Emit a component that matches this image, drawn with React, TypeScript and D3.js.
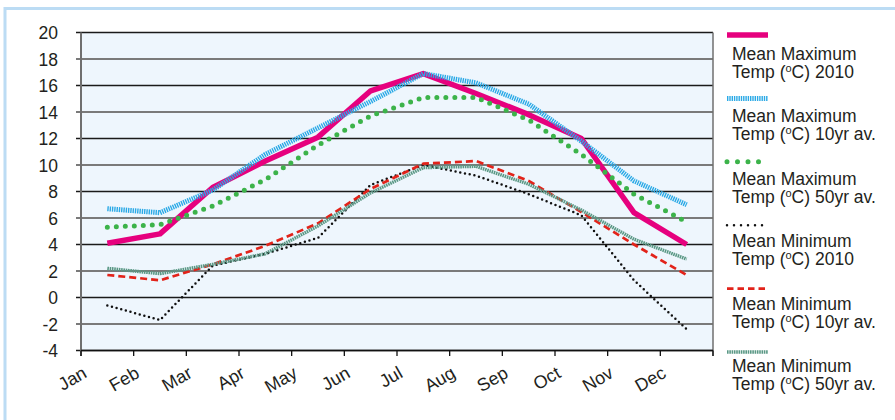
import React from "react";
import * as d3 from "d3";

const months = ["Jan", "Feb", "Mar", "Apr", "May", "Jun", "Jul", "Aug", "Sep", "Oct", "Nov", "Dec"];
const yTicks = [-4, -2, 0, 2, 4, 6, 8, 10, 12, 14, 16, 18, 20];

const maxTemp2010 = [4.1, 4.8, 8.3, 10.3, 12.1, 15.6, 16.9, 15.4, 13.8, 12.0, 6.4, 4.0];
const maxTemp10yr = [6.7, 6.4, 8.1, 10.8, 12.8, 14.8, 16.9, 16.2, 14.6, 11.8, 8.8, 7.0];
const maxTemp50yr = [5.3, 5.5, 6.9, 8.9, 11.5, 13.7, 15.1, 15.1, 13.4, 10.8, 7.8, 5.7];
const minTemp2010 = [-0.6, -1.7, 2.4, 3.3, 4.5, 8.5, 10.0, 9.2, 7.8, 6.2, 1.3, -2.4];
const minTemp10yr = [1.7, 1.3, 2.5, 3.9, 5.6, 8.2, 10.1, 10.3, 8.8, 6.45, 4.0, 1.7];
const minTemp50yr = [2.2, 1.8, 2.5, 3.3, 5.4, 7.9, 9.8, 9.9, 8.55, 6.6, 4.4, 2.9];

const seriesLine1 = ["Mean Maximum", "Mean Maximum", "Mean Maximum", "Mean Minimum", "Mean Minimum", "Mean Minimum"];
const seriesLine2 = ["2010", "10yr av.", "50yr av.", "2010", "10yr av.", "50yr av."];

const FONT = "'Liberation Sans', Arial, Helvetica, sans-serif";
const TEXT = "#231f20";

const W = 895;
const H = 420;
const M = { left: 81, right: 713, top: 32.5, bottom: 350.5 };

type Style = { stroke: string; width: number; dash?: string; legendDash?: string; cap?: "round" | "butt" };

const styles: Style[] = [
  { stroke: "#e6007e", width: 5.5 },
  { stroke: "#2aa9e6", width: 5, dash: "1.4 0.9", legendDash: "1.4 0.9" },
  { stroke: "#3cb34a", width: 5, dash: "0 9", legendDash: "0 10.5", cap: "round" },
  { stroke: "#111111", width: 2.5, dash: "0 4.8", legendDash: "0 7", cap: "round" },
  { stroke: "#e2231a", width: 2.7, dash: "7 4", legendDash: "6.5 4" },
  { stroke: "#5a9885", width: 3.4, dash: "1.6 0.7", legendDash: "1.6 0.7" },
];

const allSeries = [maxTemp2010, maxTemp10yr, maxTemp50yr, minTemp2010, minTemp10yr, minTemp50yr];

export default function App() {
  const x = d3.scaleBand<string>().domain(months).range([M.left, M.right]).padding(0);
  const y = d3.scaleLinear().domain([-4, 20]).range([M.bottom, M.top]);
  const bw = x.bandwidth();
  const lineGen = d3
    .line<number>()
    .x((_, i) => (x(months[i]) as number) + bw / 2)
    .y((d) => y(d));

  const boundaries = months.map((m) => x(m) as number).concat([M.right]);

  return (
    <div>
      <style>{"body{margin:0;background:#fff}"}</style>
      <svg width={W} height={H} viewBox={`0 0 ${W} ${H}`} style={{ display: "block" }}>
        <rect x={5} y={8.5} width={1200} height={1200} fill="none" stroke="#bcdcf4" strokeWidth={3} />
        <rect x={M.left} y={M.top} width={M.right - M.left} height={M.bottom - M.top} fill="#eef6fd" />
        {yTicks.map((t) => (
          <line
            key={"g" + t}
            x1={M.left - 5}
            x2={M.right}
            y1={y(t)}
            y2={y(t)}
            stroke={t % 4 === 0 ? "#1a1a1a" : "#7a7a7a"}
            strokeWidth={t % 4 === 0 ? 1.3 : 1.8}
          />
        ))}
        {yTicks.map((t) => (
          <text
            key={"yl" + t}
            x={58}
            y={y(t) + 6.6}
            textAnchor="end"
            fontFamily={FONT}
            fontSize={17.5}
            fill={TEXT}
          >
            {t}
          </text>
        ))}
        <line x1={M.left} x2={M.left} y1={M.top} y2={M.bottom + 5.5} stroke="#6f6f6f" strokeWidth={2} />
        <line x1={M.right} x2={M.right} y1={M.top} y2={M.bottom + 5.5} stroke="#6f6f6f" strokeWidth={1.5} />
        <line x1={M.left} x2={M.right} y1={M.bottom} y2={M.bottom} stroke="#111" strokeWidth={1.6} />
        {boundaries.map((bx, i) => (
          <line key={"xt" + i} x1={bx} x2={bx} y1={M.bottom} y2={M.bottom + 5.5} stroke="#111" strokeWidth={1.3} />
        ))}
        {months.map((m) => {
          const ax = (x(m) as number) + 7;
          const ay = 376.5;
          return (
            <text
              key={"xl" + m}
              x={ax}
              y={ay}
              transform={`rotate(-30 ${ax} ${ay})`}
              textAnchor="end"
              fontFamily={FONT}
              fontSize={18}
              fill={TEXT}
            >
              {m}
            </text>
          );
        })}
        {allSeries.map((vals, i) => {
          const s = styles[i];
          return (
            <path
              key={"s" + i}
              d={lineGen(vals) as string}
              fill="none"
              stroke={s.stroke}
              strokeWidth={s.width}
              strokeDasharray={s.dash}
              strokeLinecap={s.cap || "butt"}
              strokeLinejoin="round"
            />
          );
        })}
        {seriesLine1.map((l1, i) => {
          const s = styles[i];
          const ly = 35 + 63.4 * i;
          const b1 = 59.5 + 62.5 * i;
          return (
            <g key={"lg" + i}>
              <line
                x1={727}
                x2={768}
                y1={ly}
                y2={ly}
                stroke={s.stroke}
                strokeWidth={s.width}
                strokeDasharray={s.legendDash}
                strokeLinecap={s.cap || "butt"}
              />
              <text x={732} y={b1} fontFamily={FONT} fontSize={17.5} fill={TEXT}>
                {l1}
              </text>
              <text x={732} y={b1 + 18.3} fontFamily={FONT} fontSize={17.5} fill={TEXT}>
                {"Temp ("}
                <tspan fontSize={11} dy={-6}>
                  o
                </tspan>
                <tspan dy={6}>{"C) " + seriesLine2[i]}</tspan>
              </text>
            </g>
          );
        })}
      </svg>
    </div>
  );
}
